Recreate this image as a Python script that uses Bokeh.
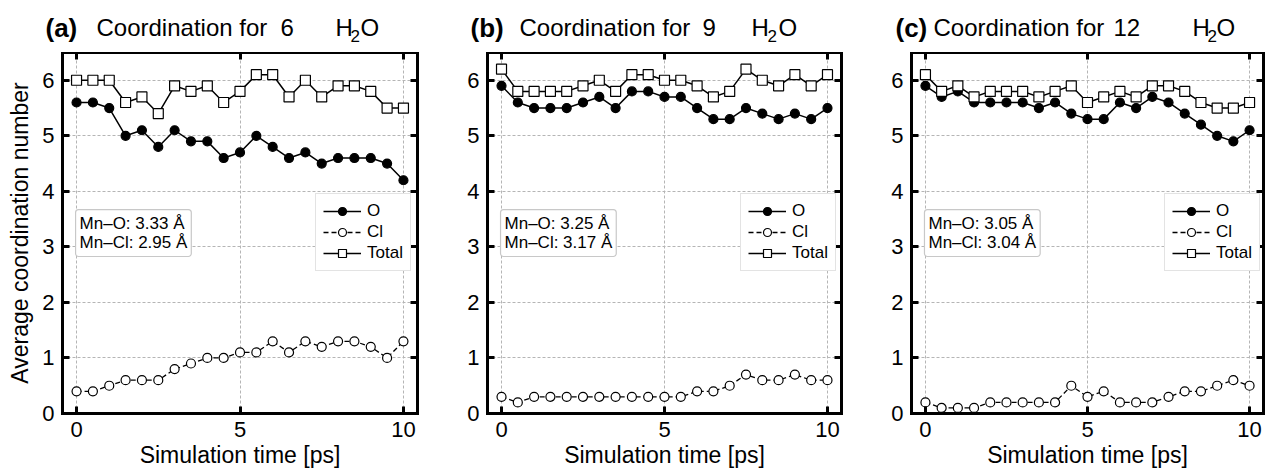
from bokeh.plotting import figure
from bokeh.models import Range1d, Label, Legend, LegendItem, LinearAxis, FixedTicker
from bokeh.layouts import row, column
from bokeh.embed import file_html
from bokeh.resources import INLINE

# ---------------- data ----------------
time_ps = [0.0, 0.5, 1.0, 1.5, 2.0, 2.5, 3.0, 3.5, 4.0, 4.5, 5.0,
           5.5, 6.0, 6.5, 7.0, 7.5, 8.0, 8.5, 9.0, 9.5, 10.0]

o_6 = [5.6, 5.6, 5.5, 5.0, 5.1, 4.8, 5.1, 4.9, 4.9, 4.6, 4.7,
       5.0, 4.8, 4.6, 4.7, 4.5, 4.6, 4.6, 4.6, 4.5, 4.2]
cl_6 = [0.4, 0.4, 0.5, 0.6, 0.6, 0.6, 0.8, 0.9, 1.0, 1.0, 1.1,
        1.1, 1.3, 1.1, 1.3, 1.2, 1.3, 1.3, 1.2, 1.0, 1.3]
total_6 = [6.0, 6.0, 6.0, 5.6, 5.7, 5.4, 5.9, 5.8, 5.9, 5.6, 5.8,
           6.1, 6.1, 5.7, 6.0, 5.7, 5.9, 5.9, 5.8, 5.5, 5.5]

o_9 = [5.9, 5.6, 5.5, 5.5, 5.5, 5.6, 5.7, 5.5, 5.8, 5.8, 5.7,
       5.7, 5.5, 5.3, 5.3, 5.5, 5.4, 5.3, 5.4, 5.3, 5.5]
cl_9 = [0.3, 0.2, 0.3, 0.3, 0.3, 0.3, 0.3, 0.3, 0.3, 0.3, 0.3,
        0.3, 0.4, 0.4, 0.5, 0.7, 0.6, 0.6, 0.7, 0.6, 0.6]
total_9 = [6.2, 5.8, 5.8, 5.8, 5.8, 5.9, 6.0, 5.8, 6.1, 6.1, 6.0,
           6.0, 5.9, 5.7, 5.8, 6.2, 6.0, 5.9, 6.1, 5.9, 6.1]

o_12 = [5.9, 5.7, 5.8, 5.6, 5.6, 5.6, 5.6, 5.5, 5.6, 5.4, 5.3,
        5.3, 5.6, 5.5, 5.7, 5.6, 5.4, 5.2, 5.0, 4.9, 5.1]
cl_12 = [0.2, 0.1, 0.1, 0.1, 0.2, 0.2, 0.2, 0.2, 0.2, 0.5, 0.3,
         0.4, 0.2, 0.2, 0.2, 0.3, 0.4, 0.4, 0.5, 0.6, 0.5]
total_12 = [6.1, 5.8, 5.9, 5.7, 5.8, 5.8, 5.8, 5.7, 5.8, 5.9, 5.6,
            5.7, 5.8, 5.7, 5.9, 5.9, 5.8, 5.6, 5.5, 5.5, 5.6]

panel_letters = ["(a)", "(b)", "(c)"]
water_counts = ["6", "9", "12"]
mn_o_dist = ["3.33", "3.25", "3.05"]
mn_cl_dist = ["2.95", "3.17", "3.04"]

x_ticks = [0, 5, 10]
y_ticks = [0, 1, 2, 3, 4, 5, 6]

FONT = "Liberation Sans"
TOTAL_W = 1267
STRIP_H = 52
PANEL_H = 418


def style_axis(ax, ticks, show_labels):
    ax.ticker = FixedTicker(ticks=ticks)
    ax.axis_line_color = "black"
    ax.axis_line_width = 3
    ax.axis_line_cap = "square"
    ax.major_tick_in = 7
    ax.major_tick_out = 0
    ax.major_tick_line_width = 3
    ax.major_tick_line_color = "black"
    ax.minor_tick_line_color = None
    ax.major_label_text_font = FONT
    ax.major_label_text_color = "black"
    ax.axis_label_text_font = FONT
    ax.axis_label_text_font_style = "normal"
    ax.axis_label_text_color = "black"
    ax.axis_label_text_font_size = "23px"
    if show_labels:
        ax.major_label_text_font_size = "22px"
        ax.major_label_standoff = 8
    else:
        ax.major_label_text_font_size = "0px"
        ax.major_label_standoff = 0
        ax.major_label_overrides = {t: "" for t in ticks}


def make_panel(k, o, cl, tot, width, bl, br, ylabel):
    p = figure(width=width, height=PANEL_H, output_backend="svg", toolbar_location=None,
               title=None,
               x_range=Range1d(-0.43, 10.43), y_range=Range1d(0, 6.5),
               min_border_left=bl, min_border_right=br,
               min_border_top=0, min_border_bottom=56)
    p.outline_line_color = None
    p.background_fill_color = "white"
    p.border_fill_color = "white"

    style_axis(p.xaxis[0], x_ticks, True)
    style_axis(p.yaxis[0], y_ticks, True)
    p.xaxis[0].axis_label = "Simulation time [ps]"
    p.xaxis[0].axis_label_standoff = 2
    if ylabel:
        p.yaxis[0].axis_label = "Average coordination number"
        p.yaxis[0].axis_label_standoff = 6
    top = LinearAxis()
    right = LinearAxis()
    style_axis(top, x_ticks, False)
    style_axis(right, y_ticks, False)
    p.add_layout(top, "above")
    p.add_layout(right, "right")

    for g in (p.xgrid[0], p.ygrid[0]):
        g.grid_line_color = "#b5b5b5"
        g.grid_line_dash = "3 2"
        g.grid_line_width = 1

    l_o = p.line(time_ps, o, line_color="black", line_width=1.5)
    s_o = p.scatter(time_ps, o, marker="circle", size=9, fill_color="black",
                    line_color="black", line_width=1.2)
    l_cl = p.line(time_ps, cl, line_color="black", line_width=1.3, line_dash="5 3")
    s_cl = p.scatter(time_ps, cl, marker="circle", size=9, fill_color="white",
                     line_color="black", line_width=1.2)
    l_t = p.line(time_ps, tot, line_color="black", line_width=1.5)
    s_t = p.scatter(time_ps, tot, marker="square", size=10, fill_color="white",
                    line_color="black", line_width=1.2)

    legend = Legend(items=[LegendItem(label="O", renderers=[l_o, s_o]),
                           LegendItem(label="Cl", renderers=[l_cl, s_cl]),
                           LegendItem(label="Total", renderers=[l_t, s_t])],
                    location=(253, 142))
    legend.label_text_font = FONT
    legend.label_text_font_size = "17px"
    legend.label_text_color = "black"
    legend.glyph_width = 38
    legend.glyph_height = 20
    legend.label_height = 20
    legend.label_standoff = 6
    legend.spacing = 1
    legend.padding = 7
    legend.margin = 0
    legend.border_line_color = "#c8c8c8"
    legend.border_line_width = 1.2
    legend.background_fill_color = "white"
    legend.background_fill_alpha = 1.0
    p.add_layout(legend)

    box = Label(x=-0.03, y=3.25,
                text="Mn\u2013O: %s \u00c5\nMn\u2013Cl: %s \u00c5" % (mn_o_dist[k], mn_cl_dist[k]),
                text_font=FONT, text_font_size="17px", text_color="black",
                text_align="left", text_baseline="middle", text_line_height=1.05,
                border_line_color="#c8c8c8", border_line_width=1.2,
                background_fill_color="white", padding=4, border_radius=3)
    p.add_layout(box)
    return p


pa = make_panel(0, o_6, cl_6, total_6, 440, 62, 23, True)
pb = make_panel(1, o_9, cl_9, total_9, 424, 47, 23, False)
pc = make_panel(2, o_12, cl_12, total_12, 403, 47, 4, False)

# ---------- title strip (panel titles drawn as text) ----------
strip = figure(width=TOTAL_W, height=STRIP_H, output_backend="svg", toolbar_location=None,
               title=None,
               x_range=Range1d(0, TOTAL_W), y_range=Range1d(0, STRIP_H),
               x_axis_type=None, y_axis_type=None,
               min_border_left=0, min_border_right=0, min_border_top=0, min_border_bottom=0)
strip.outline_line_color = None
strip.xgrid.visible = False
strip.ygrid.visible = False

# x positions (px) of: letter, "Coordination for", number, "H", "2", "O"
title_x = [(45, 96, 280, 335, 350, 360),
           (470, 519, 702, 751, 767, 778),
           (895, 933, 1113, 1192, 1207, 1216)]
BASE = 25
SUB = 17
for k in range(3):
    xl, xc, xn, xh, x2, xo = title_x[k]
    strip.add_layout(Label(x=xl, y=BASE, text=panel_letters[k], text_font=FONT,
                           text_font_size="26px", text_font_style="bold",
                           text_baseline="alphabetic", text_color="black"))
    strip.add_layout(Label(x=xc, y=BASE, text="Coordination for", text_font=FONT,
                           text_font_size="24px", text_baseline="alphabetic", text_color="black"))
    strip.add_layout(Label(x=xn, y=BASE, text=water_counts[k], text_font=FONT,
                           text_font_size="24px", text_baseline="alphabetic", text_color="black"))
    strip.add_layout(Label(x=xh, y=BASE, text="H", text_font=FONT,
                           text_font_size="24px", text_baseline="alphabetic", text_color="black"))
    strip.add_layout(Label(x=x2, y=SUB, text="2", text_font=FONT,
                           text_font_size="17px", text_baseline="alphabetic", text_color="black"))
    strip.add_layout(Label(x=xo, y=BASE, text="O", text_font=FONT,
                           text_font_size="24px", text_baseline="alphabetic", text_color="black"))

layout = column(strip, row(pa, pb, pc))
open("out.html", "w").write(file_html(layout, INLINE))
